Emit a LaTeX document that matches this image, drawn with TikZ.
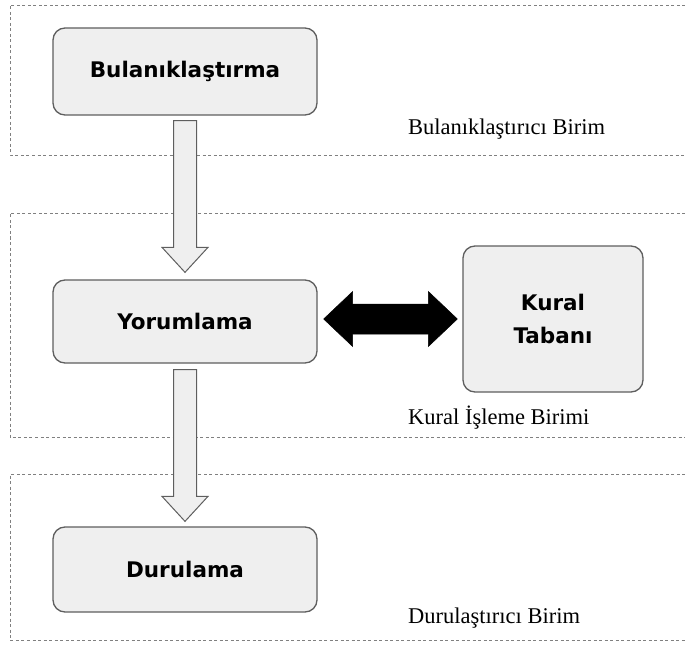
\documentclass[tikz,border=0pt]{standalone}
\usepackage{fontspec}
\setmainfont{Liberation Serif}
\newfontfamily\boxfont{DejaVu Sans}
\usetikzlibrary{calc}
\definecolor{boxfill}{HTML}{EFEFEF}
\definecolor{boxline}{HTML}{5E5E5E}
\definecolor{frameline}{HTML}{808080}
\tikzset{
  stagebox/.style={draw=boxline, line width=1.3pt, fill=boxfill, rounded corners=12pt,
    minimum width=264pt, minimum height=85pt, inner sep=0pt,
    font=\boxfont\bfseries\fontsize{21.5}{25}\selectfont},
  frameline/.style={draw=frameline, line width=0.9pt, dash pattern=on 3pt off 2.5pt},
  hollowarrow/.style={draw=boxline, line width=1pt, fill=boxfill, line join=miter},
  solidarrow/.style={fill=black, draw=black, line width=0.5pt},
  unitlabel/.style={anchor=base west, inner sep=0pt, font=\fontsize{22.5}{26}\selectfont}
}
\begin{document}
\begin{tikzpicture}[x=1pt,y=-1pt]
\useasboundingbox (0,0) rectangle (685,647);
% dashed frames (open on the right)
\draw[frameline] (685,5) -- (10,5) -- (10,155) -- (685,155);
\draw[frameline] (685,213) -- (10,213) -- (10,437) -- (685,437);
\draw[frameline] (685,474) -- (10,474) -- (10,640) -- (685,640);
% stage boxes
\node[stagebox, minimum height=87pt] (b1) at (185,71.5) {\raisebox{5pt}{Bulanıklaştırma}};
\node[stagebox, minimum height=83pt] (b2) at (185,321.5) {Yorumlama};
\node[stagebox, minimum height=85pt] (b3) at (185,569.5) {Durulama};
\node[stagebox, minimum width=180pt, minimum height=146pt, align=center,
      font=\boxfont\bfseries\fontsize{21.5}{33}\selectfont] (k) at (553,319) {Kural\\Tabanı};
% unit labels
\node[unitlabel] (l1) at (408,135) {Bulanıklaştırıcı Birim};
\node[unitlabel] (l2) at (408,424) {Kural İşleme Birimi};
\node[unitlabel] (l3) at (408,623) {Durulaştırıcı Birim};
% hollow arrows
\draw[hollowarrow] ($(b1.south)+(-11.5,5)$) -- ($(b2.north)+(-11.5,-32)$) -- ($(b2.north)+(-23,-32)$)
  -- ($(b2.north)+(0,-7)$) -- ($(b2.north)+(23,-32)$) -- ($(b2.north)+(11.5,-32)$)
  -- ($(b1.south)+(11.5,5)$) -- cycle;
\draw[hollowarrow] ($(b2.south)+(-11.5,6)$) -- ($(b3.north)+(-11.5,-30)$) -- ($(b3.north)+(-23,-30)$)
  -- ($(b3.north)+(0,-5)$) -- ($(b3.north)+(23,-30)$) -- ($(b3.north)+(11.5,-30)$)
  -- ($(b2.south)+(11.5,6)$) -- cycle;
% double black arrow
\coordinate (dl) at ($(b2.east |- k.west)+(6,0)$);
\coordinate (dr) at ($(k.west)+(-5,0)$);
\filldraw[solidarrow] (dl) -- ($(dl)+(29,-27.5)$) -- ($(dl)+(29,-15)$) -- ($(dr)+(-29,-15)$)
  -- ($(dr)+(-29,-27.5)$) -- (dr) -- ($(dr)+(-29,27.5)$) -- ($(dr)+(-29,15)$)
  -- ($(dl)+(29,15)$) -- ($(dl)+(29,27.5)$) -- cycle;
\end{tikzpicture}
\end{document}
